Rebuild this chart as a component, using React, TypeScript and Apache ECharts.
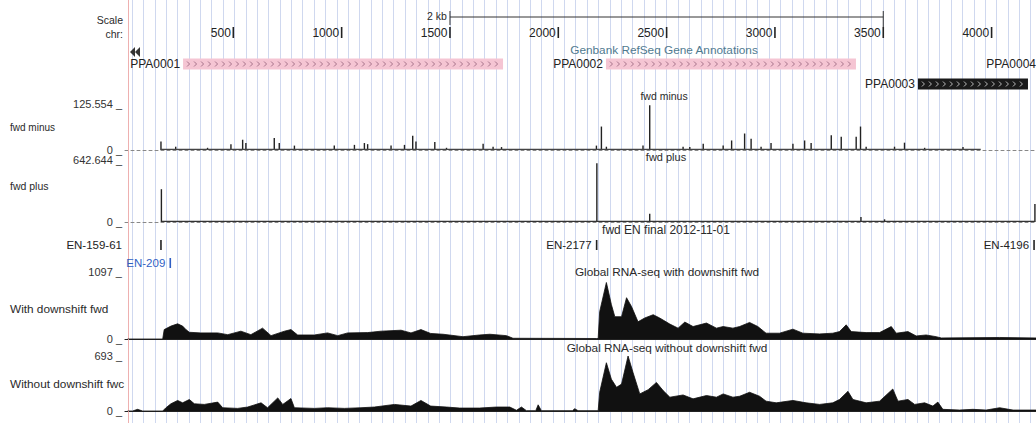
import React, { useEffect, useRef } from 'react';
import * as echarts from 'echarts';

const FONT = '"Liberation Sans", Arial, sans-serif';
const X_MIN = 0;
const X_MAX = 4205;

// scale row
const scaleTicks = [500, 1000, 1500, 2000, 2500, 3000, 3500, 4000];
const scaleBarRange = [1500, 3500];
const scaleBarLabel = '2 kb';

// gene annotations
const geneNames = ['PPA0001', 'PPA0002', 'PPA0003', 'PPA0004'];
const geneStarts = [268, 2220, 3660, 4260];
const geneEnds = [1745, 3374, 4168, 5200];
const geneRows = [0, 0, 1, 0];
const geneKinds = ['pink', 'pink', 'black', 'black'];

// fwd minus
const minusMax = 125.554;
const minusPos = [166, 234, 381, 489, 543, 558, 689, 712, 782, 966, 1059, 1105, 1120, 1228, 1290, 1328, 1343, 1430, 1484, 1653, 1699, 1738, 2176, 2199, 2222, 2391, 2422, 2576, 2607, 2669, 2761, 2800, 2860, 2890, 2936, 2982, 3083, 3137, 3167, 3260, 3306, 3375, 3395, 3421, 3552, 3598, 3691, 3868];
const minusVal = [23, 9, 6, 16, 28, 19, 33, 19, 12, 12, 14, 19, 16, 12, 14, 39, 23, 22, 6, 17, 9, 8, 12, 64, 9, 12, 122, 9, 8, 17, 12, 26, 45, 31, 9, 19, 17, 26, 19, 40, 36, 36, 64, 9, 9, 20, 6, 8];
const minusFloorPos = [166, 3950];
const minusFloorVal = [1.5, 1.5];

// fwd plus
const plusMax = 642.644;
const plusPos = [168, 2178, 2422, 3397, 3506, 4200];
const plusVal = [340, 610, 86, 52, 28, 187];
const plusFloorPos = [168, 4200];
const plusFloorVal = [6, 6];

// fwd EN final
const enNames = ['EN-159-61', 'EN-209', 'EN-2177', 'EN-4196'];
const enPos = [166, 209, 2177, 4196];
const enRows = [0, 1, 0, 0];
const enColors = ['#222222', '#2f5fc4', '#222222', '#222222'];

// Global RNA-seq with downshift
const withMax = 1097;
const withPos = [12, 174, 181, 212, 243, 266, 281, 297, 350, 428, 474, 535, 581, 635, 674, 736, 766, 797, 874, 935, 982, 1028, 1120, 1182, 1274, 1320, 1366, 1411, 1468, 1560, 1637, 1684, 1761, 1791, 2176, 2184, 2191, 2222, 2245, 2261, 2292, 2315, 2338, 2368, 2399, 2438, 2468, 2515, 2553, 2584, 2622, 2684, 2730, 2761, 2806, 2837, 2883, 2921, 2959, 3021, 3083, 3129, 3206, 3267, 3298, 3329, 3352, 3421, 3483, 3537, 3560, 3614, 3652, 3698, 3744, 3768, 4037, 4205];
const withVal = [0, 0, 154, 211, 249, 211, 155, 110, 100, 100, 71, 128, 71, 178, 55, 128, 154, 66, 66, 100, 55, 100, 105, 128, 144, 100, 154, 91, 78, 38, 66, 78, 55, 12, 8, 8, 448, 925, 564, 365, 365, 676, 531, 282, 344, 398, 344, 244, 178, 277, 204, 261, 178, 204, 178, 204, 271, 204, 95, 95, 161, 95, 83, 95, 121, 232, 121, 105, 105, 204, 95, 121, 50, 66, 38, 17, 25, 17];

// Global RNA-seq without downshift
const withoutMax = 693;
const withoutPos = [12, 35, 58, 81, 174, 189, 212, 243, 266, 297, 320, 366, 428, 451, 520, 566, 628, 658, 705, 728, 766, 782, 874, 935, 1013, 1089, 1151, 1244, 1320, 1366, 1411, 1484, 1545, 1637, 1714, 1776, 1807, 1830, 1853, 1896, 1907, 1922, 2065, 2076, 2091, 2184, 2191, 2222, 2245, 2269, 2292, 2322, 2345, 2376, 2415, 2453, 2484, 2515, 2576, 2622, 2684, 2730, 2761, 2806, 2837, 2883, 2929, 2959, 3006, 3083, 3144, 3206, 3267, 3298, 3337, 3360, 3421, 3483, 3544, 3568, 3614, 3645, 3691, 3729, 3752, 3775, 3852, 3914, 3975, 4037, 4099, 4205];
const withoutVal = [0, 0, 21, 0, 0, 41, 91, 133, 103, 145, 91, 83, 112, 41, 33, 50, 103, 41, 165, 83, 157, 41, 33, 41, 33, 41, 50, 83, 62, 133, 62, 50, 37, 37, 50, 50, 9, 50, 4, 4, 78, 4, 4, 29, 4, 4, 236, 608, 401, 298, 339, 693, 484, 215, 269, 360, 257, 174, 202, 153, 195, 174, 215, 174, 186, 236, 186, 124, 103, 133, 103, 83, 103, 145, 248, 145, 103, 124, 277, 124, 145, 83, 103, 62, 112, 21, 12, 21, 12, 41, 12, 12];

const zip = (a: number[], b: number[]) => a.map((p, i) => [p, b[i]]);

function txt(text: string, x: number, y: number, align: string, size = 11, color = '#2a2a2a') {
  return {
    type: 'text',
    x,
    y,
    z: 50,
    silent: true,
    style: {
      text,
      fill: color,
      font: `${size}px ${FONT}`,
      align,
      textAlign: align,
      verticalAlign: 'middle',
      textVerticalAlign: 'middle',
    },
  };
}

function buildOption() {
  const LEFT = 125;
  const hidden = { show: false };
  const xData = (gridIndex: number, extra: any = {}) => ({
    type: 'value',
    gridIndex,
    min: X_MIN,
    max: X_MAX,
    axisLabel: hidden,
    axisTick: hidden,
    splitLine: hidden,
    axisLine: hidden,
    ...extra,
  });
  const yTrack = (gridIndex: number, max: number) => ({
    type: 'value',
    gridIndex,
    min: 0,
    max,
    interval: max,
    axisLine: hidden,
    axisTick: hidden,
    splitLine: hidden,
    axisLabel: {
      show: true,
      margin: 3,
      fontSize: 11,
      fontFamily: FONT,
      color: '#333',
      formatter: (v: number) => `${v} _`,
    },
  });
  const yPix = (gridIndex: number, max: number) => ({
    type: 'value',
    gridIndex,
    min: 0,
    max,
    inverse: true,
    show: false,
  });

  const grids = [
    { left: 132, right: 0, top: 0, bottom: 0 }, // 0 guidelines
    { left: LEFT, right: 0, top: 0, height: 100 }, // 1 header
    { left: LEFT, right: 0, top: 104, height: 46 }, // 2 minus
    { left: LEFT, right: 0, top: 160, height: 62 }, // 3 plus
    { left: LEFT, right: 0, top: 226, height: 50 }, // 4 EN
    { left: LEFT, right: 0, top: 272, height: 67 }, // 5 with
    { left: LEFT, right: 0, top: 356, height: 55 }, // 6 without
  ];

  const xAxis = [
    {
      type: 'value',
      gridIndex: 0,
      min: 0,
      max: 4172,
      interval: 52.5,
      axisLabel: hidden,
      axisTick: hidden,
      axisLine: hidden,
      splitLine: { show: true, lineStyle: { color: '#cfd8ef', width: 1 } },
    },
    xData(1),
    xData(2, { axisLine: { show: true, onZero: true, lineStyle: { color: '#888', width: 1, type: [3, 3] } } }),
    xData(3, { axisLine: { show: true, onZero: true, lineStyle: { color: '#888', width: 1, type: [3, 3] } } }),
    xData(4),
    xData(5, { axisLine: { show: true, onZero: true, lineStyle: { color: '#222', width: 1.2 } } }),
    xData(6, { axisLine: { show: true, onZero: true, lineStyle: { color: '#222', width: 1.2 } } }),
  ];
  const yAxis = [
    { type: 'value', gridIndex: 0, min: 0, max: 1, show: false },
    yPix(1, 100),
    yTrack(2, minusMax),
    yTrack(3, plusMax),
    yPix(4, 50),
    yTrack(5, withMax),
    yTrack(6, withoutMax),
  ];

  const rowY = [64, 84];
  const enRowY = [19, 37];

  const series: any[] = [
    // scale bar
    {
      type: 'custom',
      xAxisIndex: 1,
      yAxisIndex: 1,
      silent: true,
      clip: false,
      data: [scaleBarRange],
      renderItem: (params: any, api: any) => {
        const a = api.coord([api.value(0), 17]);
        const b = api.coord([api.value(1), 17]);
        const st = { stroke: '#333', lineWidth: 1 };
        return {
          type: 'group',
          children: [
            { type: 'line', shape: { x1: a[0], y1: a[1], x2: b[0], y2: b[1] }, style: st },
            { type: 'line', shape: { x1: a[0], y1: 11, x2: a[0], y2: 25 }, style: st },
            { type: 'line', shape: { x1: b[0], y1: 11, x2: b[0], y2: 27 }, style: st },
            txt(scaleBarLabel, a[0] - 3, 16, 'right', 10.5),
          ],
        };
      },
    },
    // scale tick labels
    {
      type: 'custom',
      xAxisIndex: 1,
      yAxisIndex: 1,
      silent: true,
      clip: false,
      data: scaleTicks.map((v) => [v]),
      renderItem: (params: any, api: any) => {
        const v = api.value(0);
        const p = api.coord([v, 33]);
        return {
          type: 'group',
          children: [
            { type: 'rect', shape: { x: p[0] - 0.8, y: p[1] - 6, width: 1.6, height: 11 }, style: { fill: '#222' } },
            txt(String(v), p[0] - 2.5, p[1], 'right', 12, '#222'),
          ],
        };
      },
    },
    // genes
    {
      type: 'custom',
      xAxisIndex: 1,
      yAxisIndex: 1,
      silent: true,
      clip: false,
      data: geneNames.map((n, i) => [geneStarts[i], geneEnds[i], geneRows[i]]),
      renderItem: (params: any, api: any) => {
        const i = params.dataIndex;
        const row = api.value(2);
        const p0 = api.coord([api.value(0), rowY[row]]);
        const p1 = api.coord([api.value(1), rowY[row]]);
        const cs = params.coordSys;
        const right = cs.x + cs.width;
        const x0 = Math.max(p0[0], cs.x);
        const x1 = Math.min(p1[0], right);
        const y = p0[1];
        const pink = geneKinds[i] === 'pink';
        const children: any[] = [];
        if (x1 > x0) {
          children.push({
            type: 'rect',
            shape: { x: x0, y: y - 5.5, width: x1 - x0, height: 11 },
            style: { fill: pink ? '#f5c5d3' : '#1a1a1a' },
          });
          for (let cx = x0 + 4; cx < x1 - 3; cx += 7) {
            children.push({
              type: 'polyline',
              shape: { points: [[cx, y - 2.5], [cx + 2.5, y], [cx, y + 2.5]] },
              style: { stroke: pink ? '#a6728a' : '#b8b8b8', lineWidth: 1, fill: null },
            });
          }
        }
        const lx = Math.min(p0[0] - 3, right);
        children.push(txt(geneNames[i], lx, y, 'right', 12, '#222'));
        return { type: 'group', children };
      },
    },
    // fwd minus
    {
      type: 'line',
      xAxisIndex: 2,
      yAxisIndex: 2,
      silent: true,
      symbol: 'none',
      data: zip(minusFloorPos, minusFloorVal),
      lineStyle: { color: '#444', width: 1.2 },
    },
    {
      type: 'bar',
      xAxisIndex: 2,
      yAxisIndex: 2,
      silent: true,
      barWidth: 1.4,
      data: zip(minusPos, minusVal),
      itemStyle: { color: '#222' },
    },
    // fwd plus
    {
      type: 'line',
      xAxisIndex: 3,
      yAxisIndex: 3,
      silent: true,
      symbol: 'none',
      data: zip(plusFloorPos, plusFloorVal),
      lineStyle: { color: '#333', width: 1.2 },
    },
    {
      type: 'bar',
      xAxisIndex: 3,
      yAxisIndex: 3,
      silent: true,
      barWidth: 1.4,
      data: zip(plusPos, plusVal),
      itemStyle: { color: '#222' },
    },
    // EN markers
    {
      type: 'custom',
      xAxisIndex: 4,
      yAxisIndex: 4,
      silent: true,
      clip: false,
      data: enNames.map((n, i) => [enPos[i], enRows[i]]),
      renderItem: (params: any, api: any) => {
        const i = params.dataIndex;
        const p = api.coord([api.value(0), enRowY[api.value(1)]]);
        const cs = params.coordSys;
        const name = enNames[i];
        const estW = name.length * 6;
        let tx = p[0] - 5;
        if (tx - estW < cs.x) tx = cs.x - 3;
        return {
          type: 'group',
          children: [
            { type: 'rect', shape: { x: p[0] - 0.8, y: p[1] - 5, width: 1.6, height: 10 }, style: { fill: enColors[i] } },
            txt(name, tx, p[1], 'right', 11.5, enColors[i]),
          ],
        };
      },
    },
    // RNA-seq with downshift
    {
      type: 'line',
      xAxisIndex: 5,
      yAxisIndex: 5,
      silent: true,
      symbol: 'none',
      data: zip(withPos, withVal),
      lineStyle: { color: '#111', width: 0.8 },
      areaStyle: { color: '#111', opacity: 1 },
    },
    // RNA-seq without downshift
    {
      type: 'line',
      xAxisIndex: 6,
      yAxisIndex: 6,
      silent: true,
      symbol: 'none',
      data: zip(withoutPos, withoutVal),
      lineStyle: { color: '#111', width: 0.8 },
      areaStyle: { color: '#111', opacity: 1 },
    },
  ];

  const graphic: any[] = [
    { type: 'line', silent: true, z: 1, shape: { x1: 128.5, y1: 0, x2: 128.5, y2: 423 }, style: { stroke: '#eeb0b0', lineWidth: 1 } },
    txt('Scale', 123, 20, 'right', 10.5),
    txt('chr:', 123, 34, 'right', 10.5),
    txt('Genbank RefSeq Gene Annotations', 664, 50, 'center', 11.8, '#4f7a90'),
    {
      type: 'polygon', silent: true, z: 50,
      shape: { points: [[130, 52], [135, 47], [135, 57]] },
      style: { fill: '#333' },
    },
    {
      type: 'polygon', silent: true, z: 50,
      shape: { points: [[135, 52], [140, 47], [140, 57]] },
      style: { fill: '#333' },
    },
    txt('fwd minus', 664, 96, 'center', 10.5),
    txt('fwd plus', 666, 157, 'center', 11),
    txt('fwd EN final 2012-11-01', 666, 230, 'center', 12),
    txt('Global RNA-seq with downshift fwd', 667, 272, 'center', 11.8),
    txt('Global RNA-seq without downshift fwd', 667, 348, 'center', 11.8),
    txt('fwd minus', 10, 127, 'left', 10),
    txt('fwd plus', 10, 186, 'left', 10.5),
    txt('With downshift fwd', 10, 309, 'left', 11.8),
    txt('Without downshift fwc', 10, 384, 'left', 11.8),
  ];

  return {
    animation: false,
    backgroundColor: '#ffffff',
    grid: grids,
    xAxis,
    yAxis,
    series,
    graphic,
  };
}

export default function App() {
  const ref = useRef<HTMLDivElement>(null);
  useEffect(() => {
    if (!ref.current) return;
    const chart = echarts.init(ref.current, undefined, { renderer: 'svg' });
    chart.setOption(buildOption() as any);
    return () => chart.dispose();
  }, []);
  return (
    <div
      ref={ref}
      style={{ position: 'absolute', left: 0, top: 0, width: 1036, height: 423 }}
    />
  );
}
